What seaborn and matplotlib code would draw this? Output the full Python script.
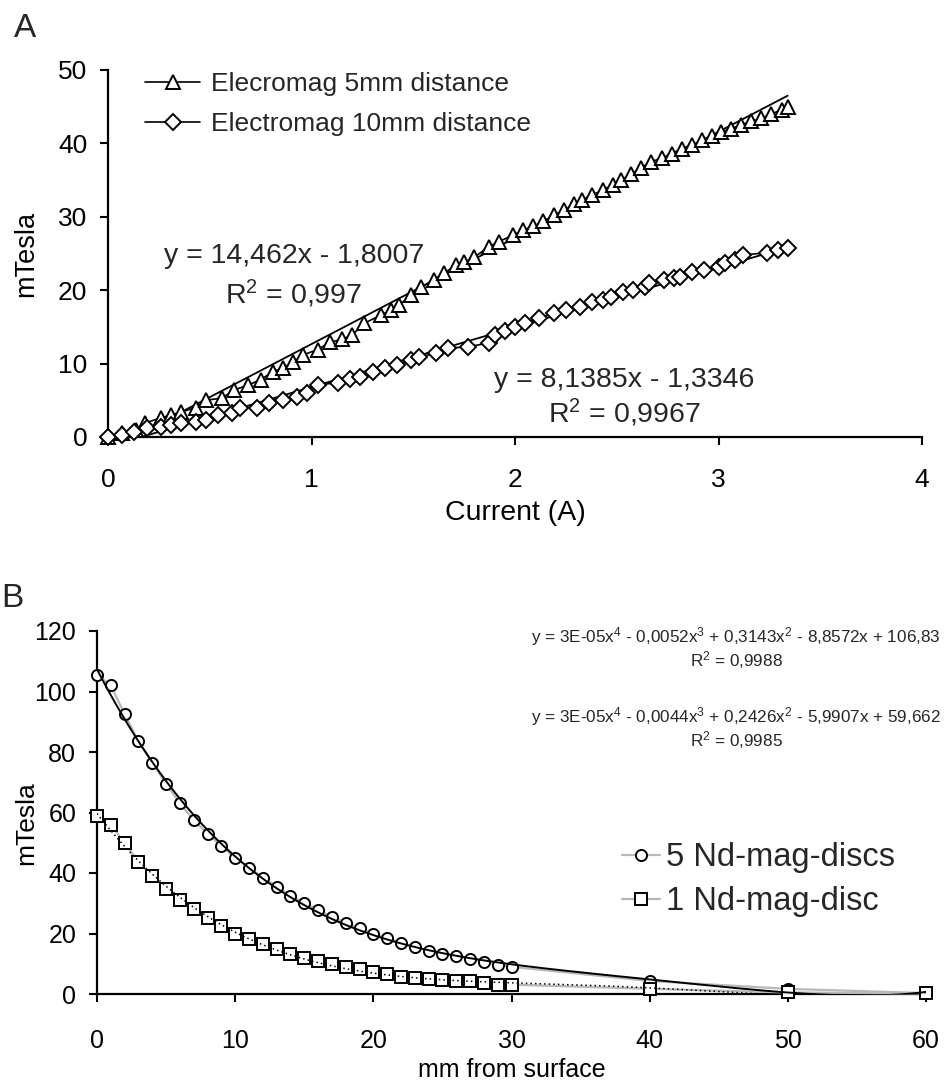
import numpy as np
import pandas as pd
import matplotlib
matplotlib.use("Agg")
import matplotlib.pyplot as plt
import seaborn as sns
from matplotlib.lines import Line2D

# ---------------- Panel A: electromagnet field vs. current ----------------
current_5mm = [0, 0.07, 0.14, 0.18, 0.26, 0.31, 0.36, 0.43, 0.48, 0.56, 0.62, 0.69,
               0.75, 0.81, 0.86, 0.91, 0.96, 1.03, 1.09, 1.15, 1.20, 1.26, 1.34, 1.39,
               1.43, 1.49, 1.54, 1.60, 1.65, 1.71, 1.75, 1.80, 1.87, 1.92, 1.99, 2.04,
               2.09, 2.14, 2.19, 2.24, 2.29, 2.33, 2.38, 2.43, 2.48, 2.52, 2.57, 2.62,
               2.67, 2.72, 2.77, 2.82, 2.87, 2.92, 2.97, 3.01, 3.06, 3.11, 3.16, 3.21,
               3.26, 3.31, 3.34]
tesla_5mm = [0, 0.6, 0.95, 1.9, 2.6, 3.0, 3.4, 4.0, 5.0, 5.3, 6.4, 7.1,
             7.8, 8.9, 9.4, 10.2, 11.2, 11.9, 12.9, 13.3, 13.9, 15.5, 16.6, 17.3,
             18.0, 19.3, 20.4, 21.4, 22.3, 23.4, 23.8, 24.5, 25.9, 26.6, 27.5, 28.2,
             28.7, 29.4, 30.2, 30.9, 31.7, 32.3, 33.0, 33.6, 34.4, 35.0, 35.8, 36.7,
             37.5, 38.0, 38.6, 39.3, 39.8, 40.4, 41.0, 41.5, 42.0, 42.5, 43.0, 43.4,
             44.0, 44.6, 45.0]

current_10mm = [0, 0.07, 0.13, 0.19, 0.26, 0.31, 0.36, 0.43, 0.48, 0.54, 0.61, 0.65,
                0.73, 0.79, 0.86, 0.93, 0.98, 1.03, 1.13, 1.19, 1.24, 1.30, 1.36, 1.42,
                1.49, 1.53, 1.61, 1.67, 1.77, 1.87, 1.90, 1.95, 2.00, 2.05, 2.12, 2.19,
                2.25, 2.32, 2.38, 2.43, 2.47, 2.53, 2.58, 2.64, 2.66, 2.73, 2.78, 2.81,
                2.87, 2.93, 3.00, 3.03, 3.08, 3.12, 3.24, 3.29, 3.34]
tesla_10mm = [0, 0.27, 0.7, 1.2, 1.4, 1.6, 1.9, 2.0, 2.3, 3.0, 3.3, 4.0,
              4.0, 4.6, 5.0, 5.4, 6.0, 7.1, 7.4, 7.9, 8.2, 8.9, 9.4, 9.8,
              10.5, 10.9, 11.4, 12.1, 12.3, 12.8, 13.9, 14.5, 15.0, 15.5, 16.2, 16.9,
              17.3, 17.7, 18.4, 18.7, 19.1, 19.8, 20.0, 20.4, 21.0, 21.4, 21.7, 21.8,
              22.5, 22.8, 23.2, 23.7, 24.1, 24.8, 25.1, 25.5, 25.7]

# linear trendlines: slope, intercept, R^2
fit_5mm = [14.462, -1.8007, 0.997]
fit_10mm = [8.1385, -1.3346, 0.9967]

labels_A = ["Elecromag 5mm distance", "Electromag 10mm distance"]
xticks_A = [0, 1, 2, 3, 4]
yticks_A = [0, 10, 20, 30, 40, 50]

# ---------------- Panel B: permanent magnets vs. distance ----------------
dist_mm = [0, 1, 2, 3, 4, 5, 6, 7, 8, 9, 10, 11, 12, 13, 14, 15, 16, 17, 18, 19,
           20, 21, 22, 23, 24, 25, 26, 27, 28, 29, 30, 40, 50, 60]
tesla_5discs = [105.5, 102, 92.5, 83.5, 76.5, 69.5, 63, 57.5, 53, 49, 45, 41.8,
                38.5, 35.5, 32.5, 30, 27.8, 25.5, 23.5, 21.8, 20, 18.5, 16.8, 15.6,
                14.3, 13.3, 12.5, 11.7, 10.6, 9.6, 9.0, 4.3, 1.7, 0.3]
tesla_1disc = [59, 56, 49.8, 43.8, 39, 34.8, 31, 28, 25, 22.5, 20, 18.2,
               16.5, 14.8, 13.2, 12, 11, 10, 9, 8.2, 7.4, 6.6, 5.6, 5.2,
               5.1, 4.7, 4.3, 4.2, 3.5, 3.1, 3.1, 1.7, 0.5, 0.2]

labels_B = ["5 Nd-mag-discs", "1 Nd-mag-disc"]
eq_B = [r"y = 3E-05x$^{4}$ - 0,0052x$^{3}$ + 0,3143x$^{2}$ - 8,8572x + 106,83"
        "\n" r"R$^{2}$ = 0,9988",
        r"y = 3E-05x$^{4}$ - 0,0044x$^{3}$ + 0,2426x$^{2}$ - 5,9907x + 59,662"
        "\n" r"R$^{2}$ = 0,9985"]
xticks_B = [0, 10, 20, 30, 40, 50, 60]
yticks_B = [0, 20, 40, 60, 80, 100, 120]


def dec(v):
    return str(abs(v)).replace(".", ",")


def linear_label(fit):
    sign = "-" if fit[1] < 0 else "+"
    return f"y = {dec(fit[0])}x {sign} {dec(fit[1])}", f"R$^{{2}}$ = {dec(fit[2])}"


sns.set_theme(style="white")
plt.rcParams["font.family"] = ["Liberation Sans", "DejaVu Sans"]
plt.rcParams["mathtext.default"] = "regular"

W, H = 946, 1086
fig = plt.figure(figsize=(W / 100, H / 100), dpi=100)
fig.patch.set_facecolor("white")


def fx(px):
    return px / W


def fy(py):
    return 1 - py / H


axA = fig.add_axes([fx(108), fy(437), (922 - 108) / W, (437 - 70) / H])
axB = fig.add_axes([fx(97), fy(994), (926 - 97) / W, (994 - 631) / H])

for ax in (axA, axB):
    ax.set_facecolor("white")
    for side in ("top", "right"):
        ax.spines[side].set_visible(False)
    for side in ("left", "bottom"):
        ax.spines[side].set_color("black")
        ax.spines[side].set_linewidth(1.6)
    ax.tick_params(direction="out", length=6, width=1.5, colors="black",
                   left=True, bottom=True)

# ---- Panel A ----
dfA5 = pd.DataFrame({"current": current_5mm, "tesla": tesla_5mm})
dfA10 = pd.DataFrame({"current": current_10mm, "tesla": tesla_10mm})
common_A = dict(color="black", lw=1.2, markerfacecolor="white",
                markeredgecolor="black", markeredgewidth=1.4, sort=False,
                estimator=None, clip_on=False, zorder=3)
sns.lineplot(data=dfA5, x="current", y="tesla", ax=axA, marker="^",
             markersize=10, **common_A)
sns.lineplot(data=dfA10, x="current", y="tesla", ax=axA, marker="D",
             markersize=8, **common_A)

for xs, fit in ((current_5mm, fit_5mm), (current_10mm, fit_10mm)):
    xt = np.array([min(xs), max(xs)])
    sns.lineplot(x=xt, y=fit[0] * xt + fit[1], ax=axA, color="black", lw=1.3,
                 zorder=2)

axA.set_xlim(0, 4)
axA.set_ylim(0, 50)
axA.set_xticks(xticks_A)
axA.set_yticks(yticks_A)
axA.tick_params(axis="x", labelsize=19, pad=16)
axA.tick_params(axis="y", labelsize=19, pad=9)
axA.set_xlabel("Current (A)", fontsize=20.5, color="black")
axA.set_ylabel("mTesla", fontsize=19.5, color="black")
axA.xaxis.set_label_coords(0.5, -0.172)
axA.yaxis.set_label_coords(-0.084, 0.5)

eq1, r1 = linear_label(fit_5mm)
eq2, r2 = linear_label(fit_10mm)
axA.text(0.914, 23.7, eq1, fontsize=20.5, ha="center", va="baseline")
axA.text(0.914, 18.2, r1, fontsize=20.5, ha="center", va="baseline")
axA.text(2.536, 6.8, eq2, fontsize=20.5, ha="center", va="baseline")
axA.text(2.536, 1.9, r2, fontsize=20.5, ha="center", va="baseline")

handles_A = [Line2D([], [], color="black", lw=1.2, marker="^", markersize=10,
                    markerfacecolor="white", markeredgecolor="black", markeredgewidth=1.4),
             Line2D([], [], color="black", lw=1.2, marker="D", markersize=8,
                    markerfacecolor="white", markeredgecolor="black", markeredgewidth=1.4)]
axA.legend(handles_A, labels_A, loc="upper left",
           bbox_to_anchor=(fx(145), fy(72)), bbox_transform=fig.transFigure,
           frameon=False, fontsize=19, handlelength=2.1, handletextpad=0.4,
           labelspacing=0.62, borderpad=0, borderaxespad=0)

# ---- Panel B ----
dfB = pd.DataFrame({"dist": dist_mm, "five": tesla_5discs, "one": tesla_1disc})
common_B = dict(color="#b8b8b8", lw=1.6, markersize=8, markerfacecolor="white",
                markeredgecolor="black", markeredgewidth=1.4, sort=False,
                estimator=None, clip_on=False, zorder=3)
sns.lineplot(data=dfB, x="dist", y="five", ax=axB, marker="o", **common_B)
sns.lineplot(data=dfB, x="dist", y="one", ax=axB, marker="s", **common_B)

xfit = np.linspace(0, 60, 400)
coef5 = np.polyfit(dist_mm, tesla_5discs, 4)
coef1 = np.polyfit(dist_mm, tesla_1disc, 4)
sns.lineplot(x=xfit, y=np.polyval(coef5, xfit), ax=axB, color="black", lw=1.4,
             zorder=4)
sns.lineplot(x=xfit, y=np.polyval(coef1, xfit), ax=axB, color="black", lw=1.1,
             linestyle=(0, (1, 2)), zorder=4)

axB.set_xlim(0, 60)
axB.set_ylim(0, 120)
axB.set_xticks(xticks_B)
axB.set_yticks(yticks_B)
axB.tick_params(axis="x", labelsize=18, pad=19)
axB.tick_params(axis="y", labelsize=18, pad=9)
axB.set_xlabel("mm from surface", fontsize=18, color="black")
axB.set_ylabel("mTesla", fontsize=19, color="black")
axB.xaxis.set_label_coords(0.5, -0.175)
axB.yaxis.set_label_coords(-0.071, 0.47)

fig.text(fx(941), fy(625), eq_B[0], fontsize=12.3, ha="right", va="top",
         multialignment="center", linespacing=1.05)
fig.text(fx(941), fy(705), eq_B[1], fontsize=12.3, ha="right", va="top",
         multialignment="center", linespacing=1.05)

handles_B = [Line2D([], [], color="#b8b8b8", lw=1.6, marker="o", markersize=8,
                    markerfacecolor="white", markeredgecolor="black", markeredgewidth=1.4),
             Line2D([], [], color="#b8b8b8", lw=1.6, marker="s", markersize=8,
                    markerfacecolor="white", markeredgecolor="black", markeredgewidth=1.4)]
axB.legend(handles_B, labels_B, loc="upper left",
           bbox_to_anchor=(fx(622), fy(842)), bbox_transform=fig.transFigure,
           frameon=False, fontsize=23.5, handlelength=1.15, handletextpad=0.2,
           labelspacing=0.4, borderpad=0, borderaxespad=0)

# panel letters
fig.text(fx(14), fy(37), "A", fontsize=24, ha="left", va="baseline")
fig.text(fx(1), fy(607), "B", fontsize=24, ha="left", va="baseline")

fig.savefig("out.png", dpi=100, facecolor="white")
